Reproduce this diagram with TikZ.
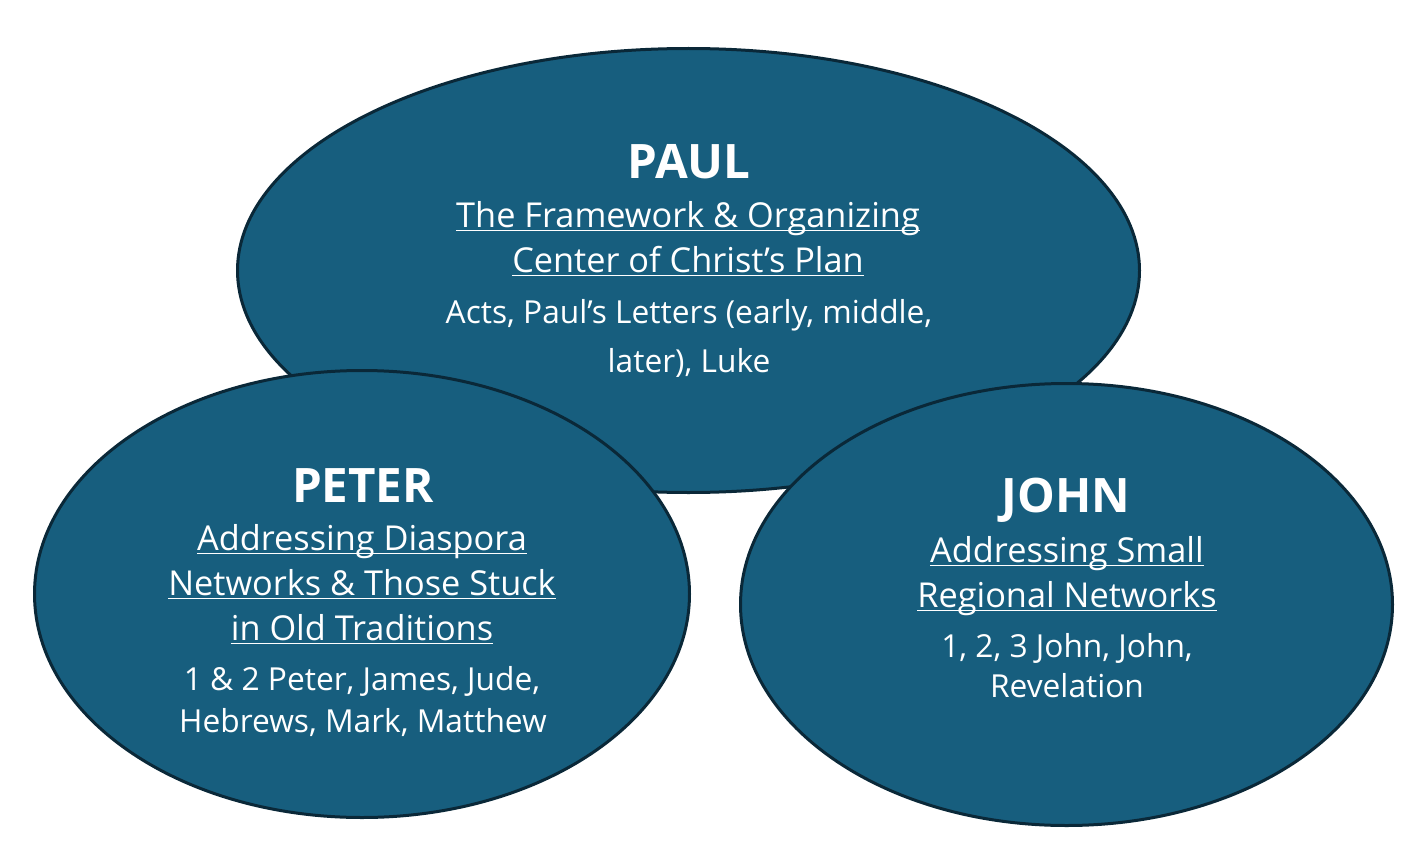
\documentclass[tikz,border=0pt]{standalone}
\usepackage{fontspec}
\setmainfont{Open Sans}
\usetikzlibrary{shapes.geometric}
\definecolor{blobfill}{RGB}{23,94,126}
\definecolor{blobline}{RGB}{10,40,56}
\tikzset{
  blob/.style={ellipse, draw=blobline, fill=blobfill, line width=3pt, inner sep=0pt},
  ttl/.style={anchor=base, inner sep=0pt, text=white, font=\bfseries\fontsize{47.5}{47.5}\selectfont},
  sub/.style={anchor=base, inner sep=0pt, text=white, font=\fontsize{34.3}{34.3}\selectfont},
  bod/.style={anchor=base, inner sep=0pt, text=white, font=\fontsize{31.7}{31.7}\selectfont},
  uline/.style={draw=white, line width=1.8pt}
}
\newcommand{\ulnode}[1]{\draw[uline] ([yshift=-3.5pt]#1.base west) -- ([yshift=-3.5pt]#1.base east);}
\begin{document}
\begin{tikzpicture}[x=1pt,y=-1pt]
\useasboundingbox (0,0) rectangle (1424,856);
% ellipses
\node[blob, minimum width=902pt, minimum height=444pt] (paul) at (688.5,270.5) {};
\node[blob, minimum width=655pt, minimum height=447pt] (peter) at (362,594) {};
\node[blob, minimum width=652pt, minimum height=442pt] (john) at (1066.5,604.5) {};
% PAUL text
\node[ttl] (pt) at (689,178) {PAUL};
\node[sub] (ps1) at (688,227) {The Framework \& Organizing};
\node[sub] (ps2) at (688,272) {Center of Christ’s Plan};
\ulnode{ps1}\ulnode{ps2}
\node[bod] (pb1) at (689,323) {Acts, Paul’s Letters (early, middle,};
\node[bod] (pb2) at (689,372) {later), Luke};
% PETER text
\node[ttl] (et) at (363,502) {PETER};
\node[sub] (es1) at (362,550) {Addressing Diaspora};
\node[sub] (es2) at (362,595) {Networks \& Those Stuck};
\node[sub] (es3) at (362,640) {in Old Traditions};
\ulnode{es1}\ulnode{es2}\ulnode{es3}
\node[bod] (eb1) at (362,690) {1 \& 2 Peter, James, Jude,};
\node[bod] (eb2) at (363,732) {Hebrews, Mark, Matthew};
% JOHN text
\node[ttl] (jt) at (1066,512) {JOHN};
\node[sub] (js1) at (1067,562) {Addressing Small};
\node[sub] (js2) at (1067,607) {Regional Networks};
\ulnode{js1}\ulnode{js2}
\node[bod] (jb1) at (1067,657) {1, 2, 3 John, John,};
\node[bod] (jb2) at (1067,697) {Revelation};
\end{tikzpicture}
\end{document}
